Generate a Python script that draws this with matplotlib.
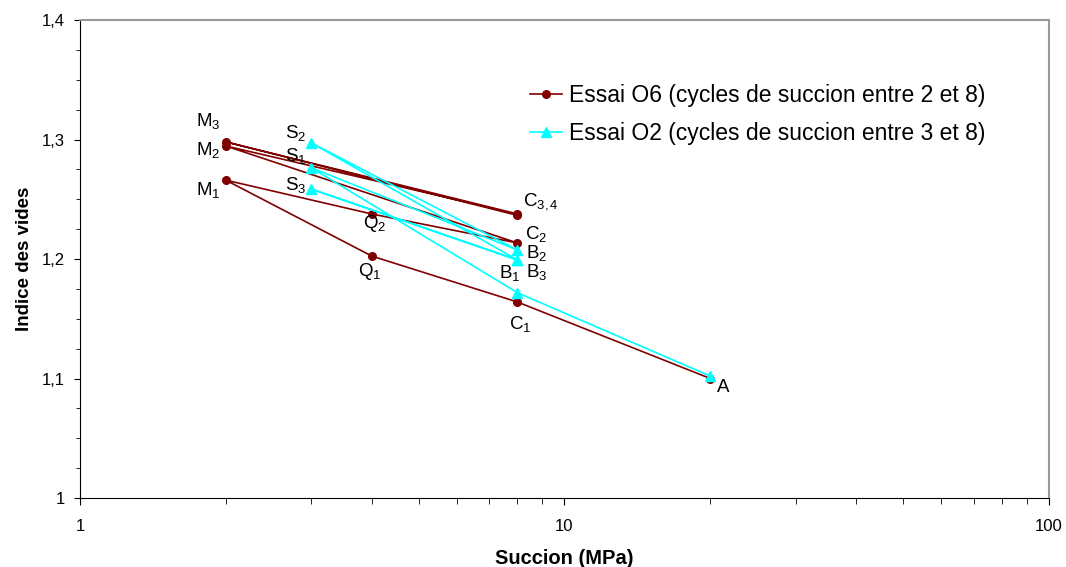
import matplotlib
matplotlib.use("Agg")
import matplotlib.pyplot as plt
from matplotlib.ticker import FixedLocator, MultipleLocator, FuncFormatter, LogLocator, NullFormatter

plt.rcParams["font.family"] = ["Liberation Sans", "DejaVu Sans"]
plt.rcParams["mathtext.fontset"] = "custom"
plt.rcParams["mathtext.rm"] = "Liberation Sans"
plt.rcParams["mathtext.it"] = "Liberation Sans"

# ----------------------------------------------------------------------------
# Data
# ----------------------------------------------------------------------------
# Essai O6 : A -> C1 -> Q1 -> M1 -> Q2 -> C2 -> M2 -> C3 -> M3 -> C4
o6_succion = [20, 8, 4, 2, 4, 8, 2, 8, 2, 8]
o6_indice = [1.100, 1.164, 1.2025, 1.266, 1.2377, 1.2134, 1.2946, 1.2377, 1.298, 1.2365]

# Essai O2 : A -> B1 -> S1 -> B2 -> S2 -> B3 -> S3 -> B3
o2_succion = [20, 8, 3, 8, 3, 8, 3, 8]
o2_indice = [1.102, 1.1718, 1.2764, 1.2075, 1.2973, 1.1992, 1.2586, 1.1992]

legend_labels = ["Essai O6 (cycles de succion entre 2 et 8)",
                 "Essai O2 (cycles de succion entre 3 et 8)"]

# point labels: (text, succion, indice, offset in pixels)
point_labels = [
    ("M$_3$", 2, 1.298, (-18, 21)),
    ("M$_2$", 2, 1.2946, (-18, -4)),
    ("M$_1$", 2, 1.266, (-18, -10)),
    ("S$_2$", 3, 1.2973, (-15, 10)),
    ("S$_1$", 3, 1.2764, (-15, 12)),
    ("S$_3$", 3, 1.2586, (-15, 4)),
    ("Q$_2$", 4, 1.2377, (3, -10)),
    ("Q$_1$", 4, 1.2025, (-2, -15)),
    ("C$_{3,4}$", 8, 1.237, (23, 13)),
    ("C$_2$", 8, 1.2134, (19, 9)),
    ("B$_2$", 8, 1.2075, (19, -3)),
    ("B$_3$", 8, 1.1992, (19, -12)),
    ("B$_1$", 8, 1.1718, (-8, 20)),
    ("C$_1$", 8, 1.164, (3, -22)),
    ("A", 20, 1.100, (13, -9)),
]

fig = plt.figure(figsize=(10.66, 5.67), dpi=100)
ax = fig.add_axes([0.075, 0.1217, 0.909, 0.843])

ax.plot(o6_succion, o6_indice, color="#800000", lw=1.2, marker="o", ms=5.5,
        label=legend_labels[0])
ax.plot(o2_succion, o2_indice, color="#00FFFF", lw=1.2, marker="^", ms=6.5,
        label=legend_labels[1])

for txt, x, y, off in point_labels:
    ax.annotate(txt, xy=(x, y), xytext=off, textcoords="offset pixels",
                ha="center", va="center", fontsize=13.5)

ax.set_xscale("log")
ax.set_xlim(1, 100)
ax.set_ylim(1.0, 1.4)

ax.xaxis.set_major_locator(FixedLocator([1, 10, 100]))
ax.xaxis.set_major_formatter(FuncFormatter(lambda v, p: f"{v:g}"))
ax.xaxis.set_minor_locator(LogLocator(base=10, subs=range(2, 10)))
ax.xaxis.set_minor_formatter(NullFormatter())

ax.yaxis.set_major_locator(MultipleLocator(0.1))
ax.yaxis.set_minor_locator(MultipleLocator(0.025))
ax.yaxis.set_major_formatter(FuncFormatter(lambda v, p: f"{v:g}".replace(".", ",")))

ax.tick_params(axis="both", which="both", direction="out", labelsize=12)
ax.tick_params(axis="x", which="major", length=5, pad=10)
ax.tick_params(axis="x", which="minor", length=4)
ax.tick_params(axis="y", which="major", length=4, pad=7)
ax.tick_params(axis="y", which="minor", length=3)

for side in ("top", "right"):
    ax.spines[side].set_color("#999999")
    ax.spines[side].set_linewidth(1.5)
for side in ("left", "bottom"):
    ax.spines[side].set_color("black")

ax.set_xlabel("Succion (MPa)", fontsize=14.5, fontweight="bold", labelpad=11)
ax.set_ylabel("Indice des vides", fontsize=13.5, fontweight="bold", labelpad=6)

ax.legend(loc="upper left", bbox_to_anchor=(0.455, 0.885), frameon=False,
          fontsize=16.5, handlelength=1.4, labelspacing=0.65, handletextpad=0.3,
          borderaxespad=0)

fig.savefig("out.png", dpi=100)
